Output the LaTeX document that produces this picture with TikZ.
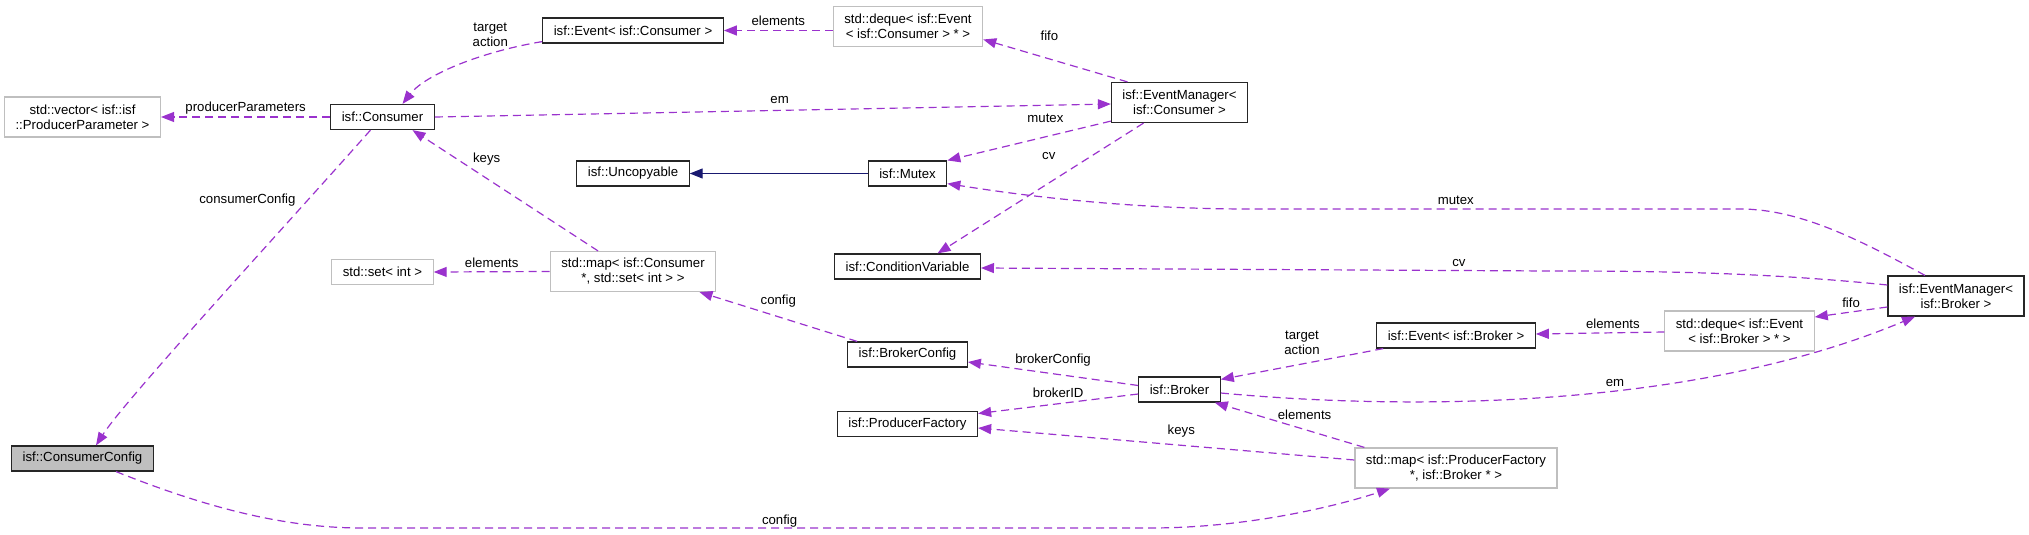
\documentclass[tikz,border=0pt]{standalone}
\usepackage{fontspec}
\setmainfont{Liberation Sans}
\usetikzlibrary{positioning}
\usetikzlibrary{arrows.meta}
\definecolor{edgepurple}{HTML}{9A32CD}
\definecolor{boxgray}{HTML}{BFBFBF}
\definecolor{inhnavy}{HTML}{191970}
\tikzstyle{cls} = [rectangle,draw=black!85,line width=1.2pt,fill=white,inner xsep=11pt,inner ysep=2pt,minimum height=25pt,align=center]
\tikzstyle{ext} = [cls,draw=boxgray]
\tikzstyle{cur} = [cls,fill=boxgray]
\tikzstyle{tall} = [minimum height=40pt]
\tikzstyle{member} = [->,draw=edgepurple,line width=1.2pt,dash pattern=on 8pt off 5pt]
\tikzstyle{inherit} = [->,draw=inhnavy,line width=1.2pt]
\tikzstyle{lbl} = [inner sep=0pt,align=center]
\tikzset{>={Triangle[length=13pt,width=10pt]}}

\begin{document}
\begin{tikzpicture}[x=1pt,y=-1pt,on grid,font=\fontsize{13.2}{15}\selectfont]
  \useasboundingbox (0,0) rectangle (2029,535);

  \node [cls] (cons) at (382.5,117) {isf::Consumer};
  \node [ext,tall,left=300pt of cons] (vec) {std::vector< isf::isf\\::ProducerParameter >};
  \node [cur,below=341.5pt of vec] (ccfg) {isf::ConsumerConfig};
  \node [ext,below=155pt of cons] (set) {std::set< int >};
  \node [cls,above right=86.5pt and 250.5pt of cons] (evc) {isf::Event< isf::Consumer >};
  \node [cls,below=143pt of evc] (unc) {isf::Uncopyable};
  \node [ext,tall,below=98pt of unc] (mapc) {std::map< isf::Consumer\\*, std::set< int > >};
  \node [ext,tall,above right=4pt and 275pt of evc] (dqc) {std::deque< isf::Event\\< isf::Consumer > * >};
  \node [cls,right=274.5pt of unc] (mtx) {isf::Mutex};
  \node [cls,below=93pt of mtx] (cvar) {isf::ConditionVariable};
  \node [cls,below=88pt of cvar] (bcfg) {isf::BrokerConfig};
  \node [cls,below=69.5pt of bcfg] (pf) {isf::ProducerFactory};
  \node [cls,tall,below right=76pt and 271.5pt of dqc] (emc) {isf::EventManager<\\isf::Consumer >};
  \node [cls,below=287pt of emc] (brk) {isf::Broker};
  \node [cls,above right=54pt and 276.5pt of brk] (evb) {isf::Event< isf::Broker >};
  \node [ext,tall,below=132.5pt of evb] (mappf) {std::map< isf::ProducerFactory\\*, isf::Broker * >};
  \node [ext,tall,above right=4.5pt and 283.5pt of evb] (dqb) {std::deque< isf::Event\\< isf::Broker > * >};
  \node [cls,tall,above right=35pt and 216.5pt of dqb] (emb) {isf::EventManager<\\isf::Broker >};

  % consumer side
  \draw [member] (cons.west) -- (vec.east) node [lbl,midway,yshift=9pt] {producerParameters};
  \draw [member] ([yshift=2pt]evc.south west) .. controls (480,52) and (425,75) .. ([xshift=20pt]cons.north) node [lbl,pos=0.25,xshift=-7pt,yshift=17pt] {target\\action};
  \draw [member] (dqc.west |- evc.east) -- (evc.east) node [lbl,midway,yshift=10pt] {elements};
  \draw [member] ([xshift=-52pt]emc.north) -- ([yshift=-13pt]dqc.east) node [lbl,midway,xshift=-6pt,yshift=25pt] {fifo};
  \draw [member] (cons.east) -- ([yshift=-1.5pt]emc.west) node [lbl,pos=0.51,yshift=10pt] {em};
  \draw [member] ([yshift=2pt]emc.south west) -- (mtx.north east) node [lbl,pos=0.4,yshift=19pt] {mutex};
  \draw [member] ([xshift=-36pt]emc.south) -- ([xshift=30pt]cvar.north) node [lbl,pos=0.45,xshift=-2pt,yshift=26pt] {cv};
  \draw [inherit] (mtx.west) -- (unc.east);
  \draw [member] ([xshift=-35pt]mapc.north) -- ([xshift=30pt]cons.south) node [lbl,pos=0.6,yshift=19pt] {keys};
  \draw [member] ([xshift=-12pt]cons.south) .. controls (280,232) and (125,400) .. ([xshift=13.5pt]ccfg.north) node [lbl,pos=0.22,xshift=-56pt,yshift=5pt] {consumerConfig};
  \draw [member] (mapc.west) -- (set.east) node [lbl,midway,yshift=9pt] {elements};
  \draw [member] ([xshift=10pt]bcfg.north west) -- ([xshift=66.5pt]mapc.south) node [lbl,midway,yshift=16pt] {config};

  % broker side
  \draw [member] ([xshift=-31pt]emb.north) .. controls (1860,240) and (1800,209) .. (1740,209) -- (1250,209) node [lbl,pos=0.58,yshift=9pt] {mutex} .. controls (1150,209) and (1050,200) .. ([yshift=3pt]mtx.south east);
  \draw [member] ([yshift=11pt]emb.west) .. controls (1760,272) and (1650,271) .. (1550,271) -- ([yshift=-1.5pt]cvar.east) node [lbl,pos=0.16,yshift=8pt] {cv};
  \draw [member] ([yshift=4pt]brk.west) -- ([yshift=-7.5pt]bcfg.east) node [lbl,midway,yshift=14pt] {brokerConfig};
  \draw [member] ([yshift=-4.5pt]brk.west) -- ([yshift=10.5pt]pf.east) node [lbl,midway,yshift=11pt] {brokerID};
  \draw [member] ([xshift=7pt]evb.south west) -- ([yshift=-3pt]brk.north east) node [lbl,midway,yshift=21pt] {target\\action};
  \draw [member] ([yshift=-1pt]dqb.west) -- ([yshift=1.5pt]evb.east) node [lbl,pos=0.4,yshift=9pt] {elements};
  \draw [member] ([yshift=-11pt]emb.west) -- ([yshift=14pt]dqb.east) node [lbl,midway,yshift=9pt] {fifo};
  \draw [member] ([yshift=-3.5pt]brk.east) .. controls (1380,408) and (1680,415) .. ([xshift=-41pt]emb.south) node [lbl,pos=0.6,yshift=7pt] {em};
  \draw [member] ([xshift=10pt]mappf.north west) -- ([xshift=-6pt]brk.south east) node [lbl,pos=0.4,yshift=15pt] {elements};
  \draw [member] ([yshift=8pt]mappf.west) -- ([yshift=-4pt]pf.east) node [lbl,pos=0.46,yshift=14pt] {keys};
  \draw [member] ([xshift=33.5pt]ccfg.south) .. controls (200,505) and (280,528) .. (362,528) -- (1150,528) node [lbl,pos=0.53,yshift=7pt] {config} .. controls (1250,528) and (1340,505) .. ([xshift=-66pt]mappf.south);

\end{tikzpicture}
\end{document}
